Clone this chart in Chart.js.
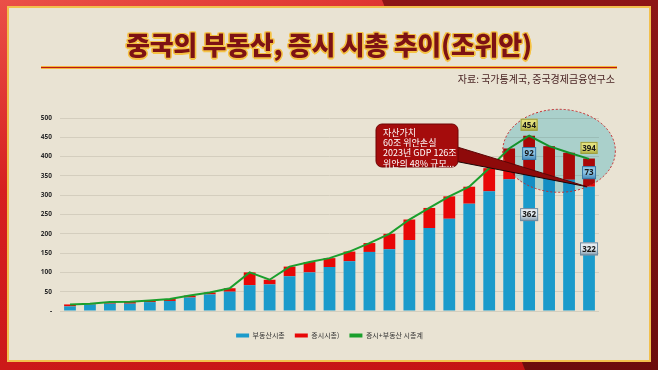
<!DOCTYPE html>
<html><head><meta charset="utf-8">
<script src="https://cdn.jsdelivr.net/npm/chart.js@4.4.1/dist/chart.umd.min.js"></script>
<style>
html,body{margin:0;padding:0;}
body{width:658px;height:370px;position:relative;overflow:hidden;background:linear-gradient(165deg,#ea5048 0%,#d62020 35%,#c21212 100%);font-family:"Noto Sans CJK KR","Noto Sans",sans-serif;}
#dark{position:absolute;left:0;top:0;width:658px;height:370px;background:linear-gradient(180deg,#8e1616,#6c0c0c);clip-path:polygon(382px 0,658px 0,658px 370px,525px 370px);}
#panel{position:absolute;left:7px;top:6px;width:640px;height:352px;background:#e9e3d3;border:2px solid #f2c04c;}
#cv{position:absolute;left:0;top:0;}
#title{position:absolute;left:0;top:26px;width:658px;text-align:center;font-size:26px;font-weight:900;color:#7d1214;line-height:36px;z-index:3;letter-spacing:-0.3px;
text-shadow:1.5px 0 0 #f5c244,-1.5px 0 0 #f5c244,0 1.5px 0 #f5c244,0 -1.5px 0 #f5c244,1.2px 1.2px 0 #f5c244,-1.2px 1.2px 0 #f5c244,1.2px -1.2px 0 #f5c244,-1.2px -1.2px 0 #f5c244;}
#rule{position:absolute;left:41px;top:66px;width:576px;height:1px;background:#b81818;border-top:1px solid #f3b53b;border-bottom:1px solid #f3b53b;z-index:3;}
#src{position:absolute;right:43px;top:72px;font-size:10px;line-height:14px;color:#4a2424;z-index:3;}
</style></head>
<body>
<div id="dark"></div>
<div id="panel"></div>
<canvas id="cv" width="658" height="370"></canvas>
<div id="title">중국의 부동산, 증시 시총 추이(조위안)</div>
<div id="rule"></div>
<div id="src">자료: 국가통계국, 중국경제금융연구소</div>
<script>
const years = ['1998','1999','2000','2001','2002','2003','2004','2005','2006','2007','2008','2009','2010','2011','2012','2013','2014','2015','2016','2017','2018','2019','2020','2021','2022','2023','2024'];
const realEstate = [12,17,19,19,23,26,35,43,50,67,69,90,100,114,129,153,160,184,215,239,278,310,341,362,348,340,322];
const stockMarket = [5,2,4,5,4,5,5,5,9,33,12,25,27,23,25,23,40,53,52,58,44,60,80,92,79,70,73];
const totalCap = [17,19,23,24,27,31,40,48,59,100,81,115,127,137,154,176,200,237,267,297,322,370,421,454,427,410,394];
const seriesNames = ['부동산시총','증시시총)','증시+부동산 시총계'];
const calloutLines = ['자산가치','60조 위안손실','2023년 GDP 126조','위안의 48% 규모...'];

const BLUE='#1b9bcb', RED='#e80707', GREEN='#1a9f2c';

function tag(ctx,cx,cy,w,h,text,c1,c2,border){
  const g=ctx.createLinearGradient(0,cy-h/2,0,cy+h/2);
  g.addColorStop(0,c1);g.addColorStop(0.5,c1);g.addColorStop(1,c2);
  ctx.fillStyle=g;ctx.fillRect(cx-w/2,cy-h/2,w,h);
  ctx.strokeStyle=border;ctx.lineWidth=1;ctx.strokeRect(cx-w/2+0.5,cy-h/2+0.5,w-1,h-1);
  ctx.fillStyle='#161616';ctx.font='bold 8px "Noto Sans"';ctx.textAlign='center';ctx.textBaseline='middle';
  ctx.fillText(text,cx,cy+0.5);
}

const overlay={
  id:'overlay',
  beforeDraw(chart){
    const ctx=chart.ctx;ctx.save();ctx.fillStyle='#e9e3d3';ctx.fillRect(9,8,640,352);ctx.restore();
  },
  afterDatasetsDraw(chart){
    const {ctx,scales:{x,y}}=chart;
    const i21=years.indexOf('2021'), i24=years.indexOf('2024');
    const x21=x.getPixelForValue(i21), x24=x.getPixelForValue(i24);
    const step=x.getPixelForValue(1)-x.getPixelForValue(0);
    const cx=(x21+x24)/2, cy=y.getPixelForValue(415), rx=step*2.82, ry=41.5;
    ctx.save();
    ctx.globalCompositeOperation='multiply';
    ctx.beginPath();ctx.ellipse(cx,cy,rx,ry,0,0,Math.PI*2);
    ctx.fillStyle='rgb(186,234,246)';ctx.fill();
    ctx.globalCompositeOperation='source-over';
    ctx.setLineDash([2,2]);ctx.strokeStyle='#c5282c';ctx.lineWidth=1;ctx.stroke();
    ctx.setLineDash([]);
    // pointer
    const tipX=x24-2, tipY=y.getPixelForValue(realEstate[i24]);
    const bx=376,by=124,bw=82,bh=43;
    ctx.beginPath();ctx.moveTo(bx+bw-4,by+22);ctx.lineTo(tipX,tipY);ctx.lineTo(bx+bw-4,by+37);ctx.closePath();
    ctx.fillStyle='#8e0a0a';ctx.fill();
    ctx.strokeStyle='#1a0505';ctx.lineWidth=1;
    ctx.beginPath();ctx.moveTo(bx+bw-4,by+37);ctx.lineTo(tipX,tipY);ctx.stroke();
    ctx.strokeStyle='#5a0606';
    ctx.beginPath();ctx.moveTo(bx+bw-4,by+22);ctx.lineTo(tipX,tipY);ctx.stroke();
    // callout box
    ctx.beginPath();ctx.roundRect(bx,by,bw,bh,6);
    ctx.fillStyle='#a50c0c';ctx.fill();ctx.strokeStyle='#6e0505';ctx.lineWidth=1;ctx.stroke();
    ctx.fillStyle='#ffffff';ctx.font='9px "Noto Sans CJK KR"';ctx.textAlign='left';ctx.textBaseline='middle';
    calloutLines.forEach((t,k)=>ctx.fillText(t,bx+7,by+8.5+k*10.2));
    // value tags
    const yel1='#e2e07c',yel2='#a9a93e',blu1='#8cc4e4',blu2='#3f86b8',gr1='#e4ebf0',gr2='#7c97ab';
    tag(ctx,x21,y.getPixelForValue(totalCap[i21])-11,17,12,String(totalCap[i21]),yel1,yel2,'#9c9c40');
    tag(ctx,x21,y.getPixelForValue(realEstate[i21]+stockMarket[i21]/2),14,13,String(stockMarket[i21]),blu1,blu2,'#3a78a5');
    tag(ctx,x21,y.getPixelForValue(realEstate[i21]*0.69),18,13,String(realEstate[i21]),gr1,gr2,'#6f8aa0');
    tag(ctx,x24,y.getPixelForValue(totalCap[i24])-11,17,12,String(totalCap[i24]),yel1,yel2,'#9c9c40');
    tag(ctx,x24,y.getPixelForValue(realEstate[i24]+stockMarket[i24]/2),14,13,String(stockMarket[i24]),blu1,blu2,'#3a78a5');
    tag(ctx,x24,y.getPixelForValue(realEstate[i24]/2),18,13,String(realEstate[i24]),gr1,gr2,'#6f8aa0');
    ctx.restore();
  }
};

new Chart(document.getElementById('cv'),{
  data:{labels:years,datasets:[
    {type:'bar',label:seriesNames[0],data:realEstate,backgroundColor:BLUE,stack:'s',order:2,categoryPercentage:1,barPercentage:0.59},
    {type:'bar',label:seriesNames[1],data:stockMarket,backgroundColor:RED,stack:'s',order:2,categoryPercentage:1,barPercentage:0.59},
    {type:'line',label:seriesNames[2],data:totalCap,borderColor:GREEN,backgroundColor:GREEN,borderWidth:2,pointRadius:0,tension:0,order:1}
  ]},
  options:{
    responsive:false,animation:false,
    layout:{padding:{left:20,right:59,top:118,bottom:21}},
    scales:{
      x:{stacked:true,grid:{display:false},border:{display:false},
        ticks:{color:'#2a2a2a',font:{family:'"Noto Sans"',size:7,weight:'bold'},padding:4,autoSkip:false,maxRotation:0},
        afterFit(s){s.height=11;}},
      y:{stacked:true,min:0,max:500,
        grid:{color:'#d4cebe',drawTicks:false,lineWidth:1},border:{display:false},
        ticks:{stepSize:50,color:'#2a2a2a',font:{family:'"Noto Sans"',size:6.5,weight:'bold'},padding:8,callback:v=>v===0?'-':v},
        afterFit(s){s.width=40;}}
    },
    plugins:{
      tooltip:{enabled:false},
      legend:{position:'bottom',fullSize:false,
        labels:{boxWidth:13,boxHeight:4,padding:10,color:'#333',font:{family:'"Noto Sans CJK KR"',size:7},
          sort:(a,b)=>a.datasetIndex-b.datasetIndex,
          generateLabels(chart){
            return Chart.defaults.plugins.legend.labels.generateLabels(chart).map(it=>{
              const ds=chart.data.datasets[it.datasetIndex];
              it.fillStyle=ds.type==='line'?ds.borderColor:ds.backgroundColor;
              it.lineWidth=0;it.strokeStyle='transparent';return it;});
          }}}
    }
  },
  plugins:[overlay]
});
</script>
</body></html>
